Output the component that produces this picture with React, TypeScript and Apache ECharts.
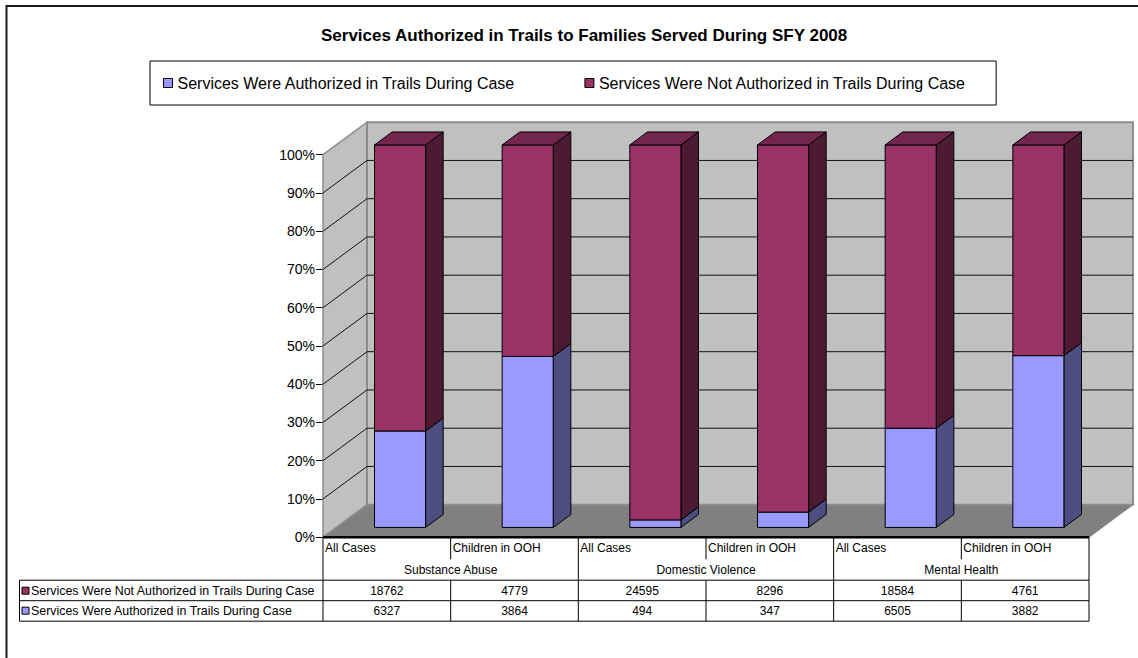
import React, { useEffect, useRef } from 'react';
import * as echarts from 'echarts';

const TITLE = 'Services Authorized in Trails to Families Served During SFY 2008';
const SERIES_AUTH = 'Services Were Authorized in Trails During Case';
const SERIES_NOT = 'Services Were Not Authorized in Trails During Case';
const categories = ['All Cases', 'Children in OOH', 'All Cases', 'Children in OOH', 'All Cases', 'Children in OOH'];
const groups = ['Substance Abuse', 'Domestic Violence', 'Mental Health'];
const notAuthorized = [18762, 4779, 24595, 8296, 18584, 4761];
const authorized = [6327, 3864, 494, 347, 6505, 3882];
const yTicks = [0, 10, 20, 30, 40, 50, 60, 70, 80, 90, 100];

const FONT = '"Liberation Sans", Arial, Helvetica, sans-serif';
const DX = 44;
const DY = -32.5;
const BLUE = { front: '#9999FF', side: '#4D4D80', top: '#7373BF' };
const PLUM = { front: '#993366', side: '#4D1A33', top: '#73264D' };

const authPct = authorized.map((a, i) => (a / (a + notAuthorized[i])) * 100);

function wallsRender(params: any, api: any) {
  const p0 = api.coord([0, 0]);
  const bw = api.size([1, 0])[0];
  const L = p0[0] - bw / 2;
  const R = L + bw * categories.length;
  const y0 = p0[1];
  const y100 = api.coord([0, 100])[1];
  const children: any[] = [];
  children.push({
    type: 'polygon',
    shape: { points: [[L, y0], [R, y0], [R + DX, y0 + DY], [L + DX, y0 + DY]] },
    style: { fill: '#808080', stroke: '#808080', lineWidth: 1 },
  });
  children.push({
    type: 'polygon',
    shape: { points: [[L, y0], [L, y100], [L + DX, y100 + DY], [L + DX, y0 + DY]] },
    style: { fill: '#C0C0C0', stroke: '#8C8C8C', lineWidth: 1.5 },
  });
  children.push({
    type: 'polygon',
    shape: { points: [[L + DX, y100 + DY], [R + DX, y100 + DY], [R + DX, y0 + DY], [L + DX, y0 + DY]] },
    style: { fill: '#C0C0C0', stroke: '#8C8C8C', lineWidth: 2 },
  });
  yTicks.forEach((v) => {
    if (v === 0 || v === 100) return;
    const y = api.coord([0, v])[1];
    children.push({
      type: 'line',
      shape: { x1: L + DX, y1: y + DY, x2: R + DX, y2: y + DY },
      style: { stroke: '#111', lineWidth: 1 },
    });
    children.push({
      type: 'line',
      shape: { x1: L, y1: y, x2: L + DX, y2: y + DY },
      style: { stroke: '#111', lineWidth: 1 },
    });
  });
  return { type: 'group', children };
}

function barRender(colors: any, isTop: boolean) {
  return (params: any, api: any) => {
    const i = api.value(0);
    const s = api.value(1);
    const e = api.value(2);
    const c = api.coord([i, 0]);
    const bw = api.size([1, 0])[0];
    const w = bw * 0.4;
    const fx = DX * 0.3, fy = DY * 0.3;
    const ddx = DX * 0.4, ddy = DY * 0.4;
    const yA = api.coord([i, s])[1] + fy;
    const yB = api.coord([i, e])[1] + fy;
    const x1 = c[0] - w / 2 + fx;
    const x2 = c[0] + w / 2 + fx;
    const stroke = { stroke: '#000', lineWidth: 1, lineJoin: 'round' };
    const children: any[] = [
      {
        type: 'polygon',
        shape: { points: [[x2, yB], [x2 + ddx, yB + ddy], [x2 + ddx, yA + ddy], [x2, yA]] },
        style: { fill: colors.side, ...stroke },
      },
      {
        type: 'polygon',
        shape: { points: [[x1, yB], [x2, yB], [x2, yA], [x1, yA]] },
        style: { fill: colors.front, ...stroke },
      },
    ];
    if (isTop) {
      children.push({
        type: 'polygon',
        shape: { points: [[x1, yB], [x2, yB], [x2 + ddx, yB + ddy], [x1 + ddx, yB + ddy]] },
        style: { fill: colors.top, ...stroke },
      });
    }
    return { type: 'group', children };
  };
}

function tableRender(params: any, api: any) {
  const i = api.value(0);
  const c = api.coord([i, 0]);
  const bw = api.size([1, 0])[0];
  const L = c[0] - bw / 2;
  const R = c[0] + bw / 2;
  const y0 = c[1];
  const yHdr = y0 + 22;
  const yRow1 = y0 + 43;
  const yRow2 = y0 + 63.5;
  const yEnd = y0 + 84;
  const ln = (x1: number, y1: number, x2: number, y2: number, w = 1) => ({
    type: 'line',
    shape: { x1, y1, x2, y2 },
    style: { stroke: '#000', lineWidth: w },
  });
  const txt = (x: number, y: number, text: string, align: string, size = 12) => ({
    type: 'text',
    x,
    y,
    style: { text, fill: '#000', font: `${size}px ${FONT}`, align, verticalAlign: 'middle' },
  });
  const children: any[] = [];
  children.push(ln(L, yRow1, R, yRow1));
  children.push(ln(L, yRow2, R, yRow2));
  children.push(ln(L, yEnd, R, yEnd));
  if (i % 2 === 0) {
    children.push(ln(L, y0, L, yEnd));
  } else {
    children.push(ln(L, y0, L, yHdr));
    children.push(ln(L, yRow1, L, yEnd));
    children.push(txt(L, y0 + 32.5, groups[(i - 1) / 2], 'center'));
  }
  if (i === categories.length - 1) children.push(ln(R, y0, R, yEnd));
  children.push(txt(L + 2, y0 + 11, categories[i], 'left'));
  children.push(txt(c[0], y0 + 53.5, String(notAuthorized[i]), 'center'));
  children.push(txt(c[0], y0 + 73.5, String(authorized[i]), 'center'));
  children.push(ln(L, y0, R, y0, 2.5));
  if (i === 0) {
    const X0 = 19.5;
    children.push(ln(X0, yRow1, L, yRow1));
    children.push(ln(X0, yRow2, L, yRow2));
    children.push(ln(X0, yEnd, L, yEnd));
    children.push(ln(X0, yRow1, X0, yEnd));
    const rows = [
      { y: y0 + 53.5, name: SERIES_NOT, color: PLUM.front },
      { y: y0 + 73.5, name: SERIES_AUTH, color: BLUE.front },
    ];
    rows.forEach((r) => {
      children.push({
        type: 'rect',
        shape: { x: 22, y: r.y - 3.5, width: 7, height: 7 },
        style: { fill: r.color, stroke: '#000', lineWidth: 1 },
      });
      children.push(txt(31, r.y, r.name, 'left', 12.4));
    });
  }
  return { type: 'group', children };
}

export default function App() {
  const ref = useRef<HTMLDivElement>(null);
  useEffect(() => {
    if (!ref.current) return;
    const chart = echarts.init(ref.current, null, { renderer: 'svg' });
    const option: any = {
      animation: false,
      backgroundColor: '#fff',
      title: {
        text: TITLE,
        left: 316,
        top: 22,
        textStyle: { fontFamily: FONT, fontSize: 17, fontWeight: 'bold', color: '#000' },
      },
      legend: {
        left: 150,
        top: 61,
        orient: 'horizontal',
        padding: [14, 30, 14, 13],
        itemGap: 69,
        itemWidth: 9,
        itemHeight: 9,
        icon: 'rect',
        borderColor: '#000',
        borderWidth: 1,
        backgroundColor: '#fff',
        selectedMode: false,
        textStyle: { fontFamily: FONT, fontSize: 16, color: '#000' },
        itemStyle: { borderColor: '#000', borderWidth: 1 },
        data: [
          { name: SERIES_AUTH, itemStyle: { color: BLUE.front, borderColor: '#000', borderWidth: 1 } },
          { name: SERIES_NOT, itemStyle: { color: PLUM.front, borderColor: '#000', borderWidth: 1 } },
        ],
      },
      graphic: [
        {
          type: 'rect',
          shape: { x: 6.5, y: 6, width: 1300, height: 800 },
          style: { fill: 'none', stroke: '#1a1a1a', lineWidth: 2 },
          silent: true,
          z: 100,
        },
      ],
      grid: { left: 323, top: 154.7, width: 766, height: 382.5, containLabel: false },
      xAxis: {
        type: 'category',
        data: categories,
        show: false,
        boundaryGap: true,
      },
      yAxis: {
        type: 'value',
        min: 0,
        max: 100,
        interval: 10,
        axisLine: { show: true, lineStyle: { color: '#000', width: 1 } },
        axisTick: { show: true, length: 7, lineStyle: { color: '#000' } },
        axisLabel: {
          formatter: '{value}%',
          fontFamily: FONT,
          fontSize: 14,
          color: '#000',
          margin: 8,
        },
        splitLine: { show: false },
      },
      series: [
        {
          type: 'custom',
          name: 'walls',
          silent: true,
          z: 1,
          clip: false,
          renderItem: wallsRender,
          encode: { x: 0, y: 1 },
          data: [[0, 0]],
        },
        {
          type: 'custom',
          name: SERIES_AUTH,
          z: 2,
          clip: false,
          itemStyle: { color: BLUE.front },
          renderItem: barRender(BLUE, false),
          encode: { x: 0, y: [1, 2] },
          data: categories.map((_, i) => [i, 0, authPct[i]]),
        },
        {
          type: 'custom',
          name: SERIES_NOT,
          z: 3,
          clip: false,
          itemStyle: { color: PLUM.front },
          renderItem: barRender(PLUM, true),
          encode: { x: 0, y: [1, 2] },
          data: categories.map((_, i) => [i, authPct[i], 100]),
        },
        {
          type: 'custom',
          name: 'table',
          silent: true,
          z: 4,
          clip: false,
          renderItem: tableRender,
          encode: { x: 0, y: 1 },
          data: categories.map((_, i) => [i, 0]),
        },
      ],
    };
    chart.setOption(option);
    return () => chart.dispose();
  }, []);
  return (
    <div
      ref={ref}
      style={{ position: 'absolute', left: 0, top: 0, width: 1138, height: 658, background: '#fff', overflow: 'hidden' }}
    />
  );
}
